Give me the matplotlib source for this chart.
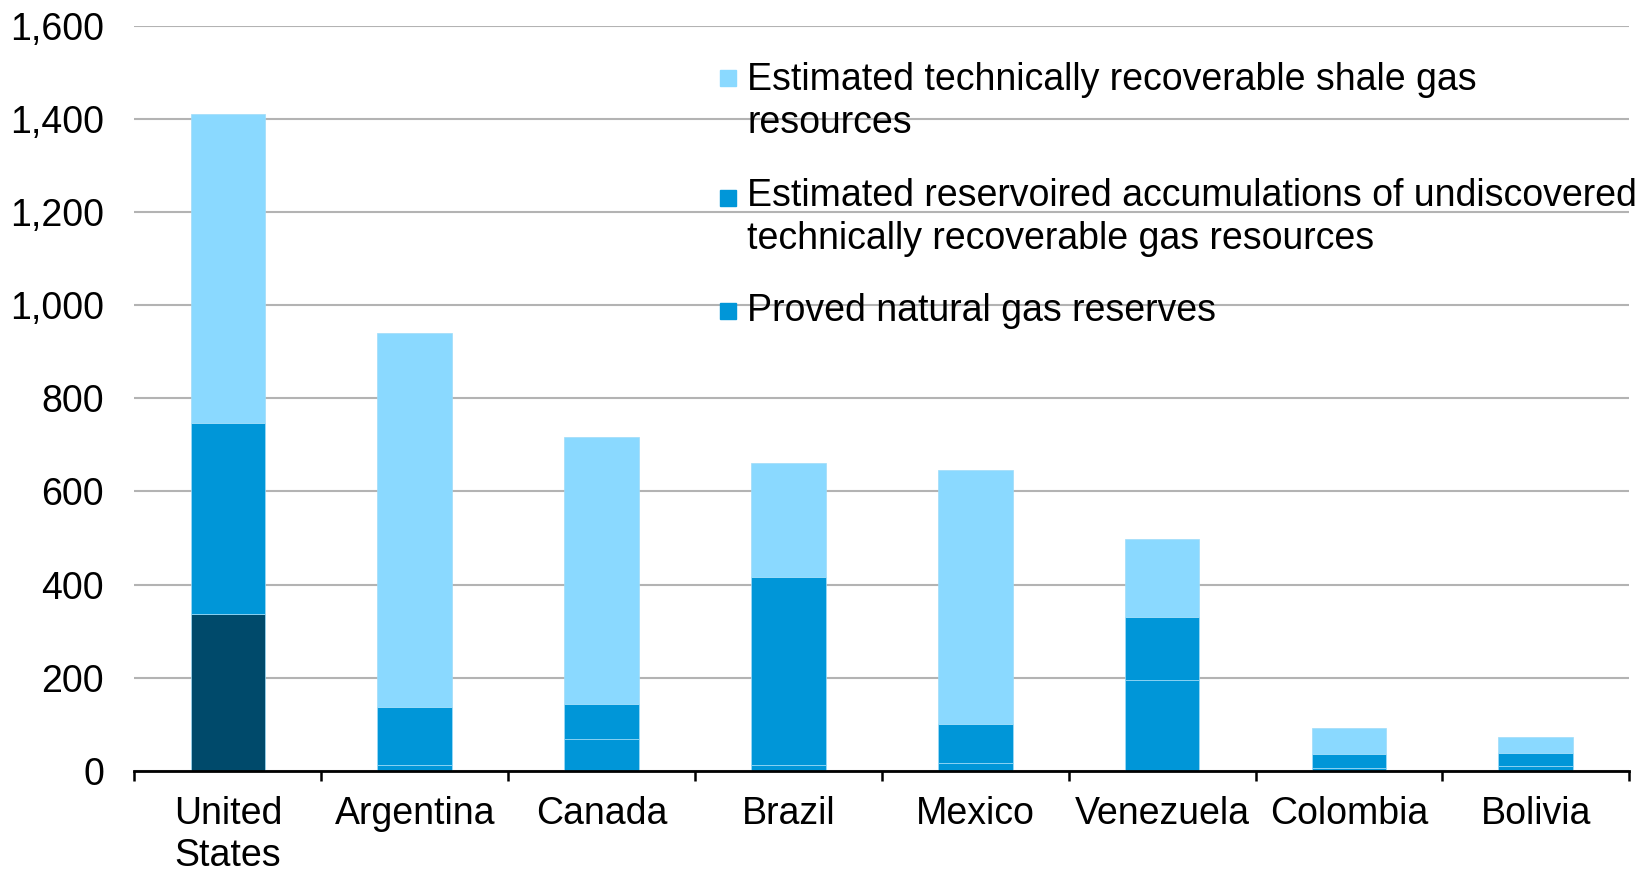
import matplotlib.pyplot as plt
from matplotlib.patches import Rectangle
from matplotlib.ticker import FuncFormatter, FixedLocator

plt.rcParams['font.family'] = ['Liberation Sans', 'DejaVu Sans']

countries = ["United\nStates", "Argentina", "Canada", "Brazil", "Mexico",
             "Venezuela", "Colombia", "Bolivia"]
proved = [336, 12, 68, 14, 17, 195, 5.5, 10]
accumulations = [410, 126, 76, 403, 84, 136, 32, 28]
shale = [665, 802, 573, 245, 545, 167, 55, 36]

legend_labels = ["Estimated technically recoverable shale gas\nresources",
                 "Estimated reservoired accumulations of undiscovered\ntechnically recoverable gas resources",
                 "Proved natural gas reserves"]

c_light = "#8ad9ff"
c_mid = "#0096d8"
c_dark = "#004a6b"
edge = "#9fdcf8"

fig = plt.figure(figsize=(16.48, 8.74), dpi=100)
ax = fig.add_axes([0.0816, 0.1178, 0.907, 0.853])

x = list(range(len(countries)))
w = 0.4
proved_cols = [c_dark] + [c_mid] * (len(countries) - 1)
ax.bar(x, proved, w, color=proved_cols, edgecolor=edge, linewidth=0.5, zorder=3)
ax.bar(x, accumulations, w, bottom=proved, color=c_mid, edgecolor=edge,
       linewidth=0.5, zorder=3)
base2 = [p + a for p, a in zip(proved, accumulations)]
ax.bar(x, shale, w, bottom=base2, color=c_light, edgecolor=edge,
       linewidth=0.5, zorder=3)

ax.set_xlim(-0.5, len(countries) - 0.5)
ax.set_ylim(0, 1600)
ax.set_yticks(range(0, 1601, 200))
ax.yaxis.set_major_formatter(FuncFormatter(lambda v, p: f"{int(v):,}"))
ax.grid(axis='y', color="#b3b3b3", linewidth=1.5, zorder=0)
ax.set_axisbelow(True)

ax.set_xticks(x)
ax.set_xticklabels(countries, fontsize=27, linespacing=1.22)
ax.xaxis.set_minor_locator(FixedLocator([i - 0.5 for i in range(len(countries) + 1)]))
ax.tick_params(axis='x', which='major', length=0, pad=18)
ax.tick_params(axis='x', which='minor', length=7, width=1.8, color='black')
ax.tick_params(axis='y', length=0, labelsize=27, pad=22)

for s in ['top', 'right', 'left']:
    ax.spines[s].set_visible(False)
ax.spines['bottom'].set_linewidth(2)
ax.spines['bottom'].set_zorder(4)

# legend drawn by hand so the squares sit on the first line
H = 874.0
baselines = [85, 205, 318]
text_shift = [5, 1, 3]
leg_cols = [c_light, c_mid, c_mid]
for lab, col, b, s in zip(legend_labels, leg_cols, baselines, text_shift):
    fig.text(747 / 1648, 1 - (b - 28 + s) / H, lab, fontsize=27, va='top',
             ha='left', linespacing=1.26)
    fig.patches.append(Rectangle((720 / 1648, 1 - (b + 1) / H), 16 / 1648, 16 / H,
                                 transform=fig.transFigure, color=col))

fig.savefig("out.png", dpi=100)
